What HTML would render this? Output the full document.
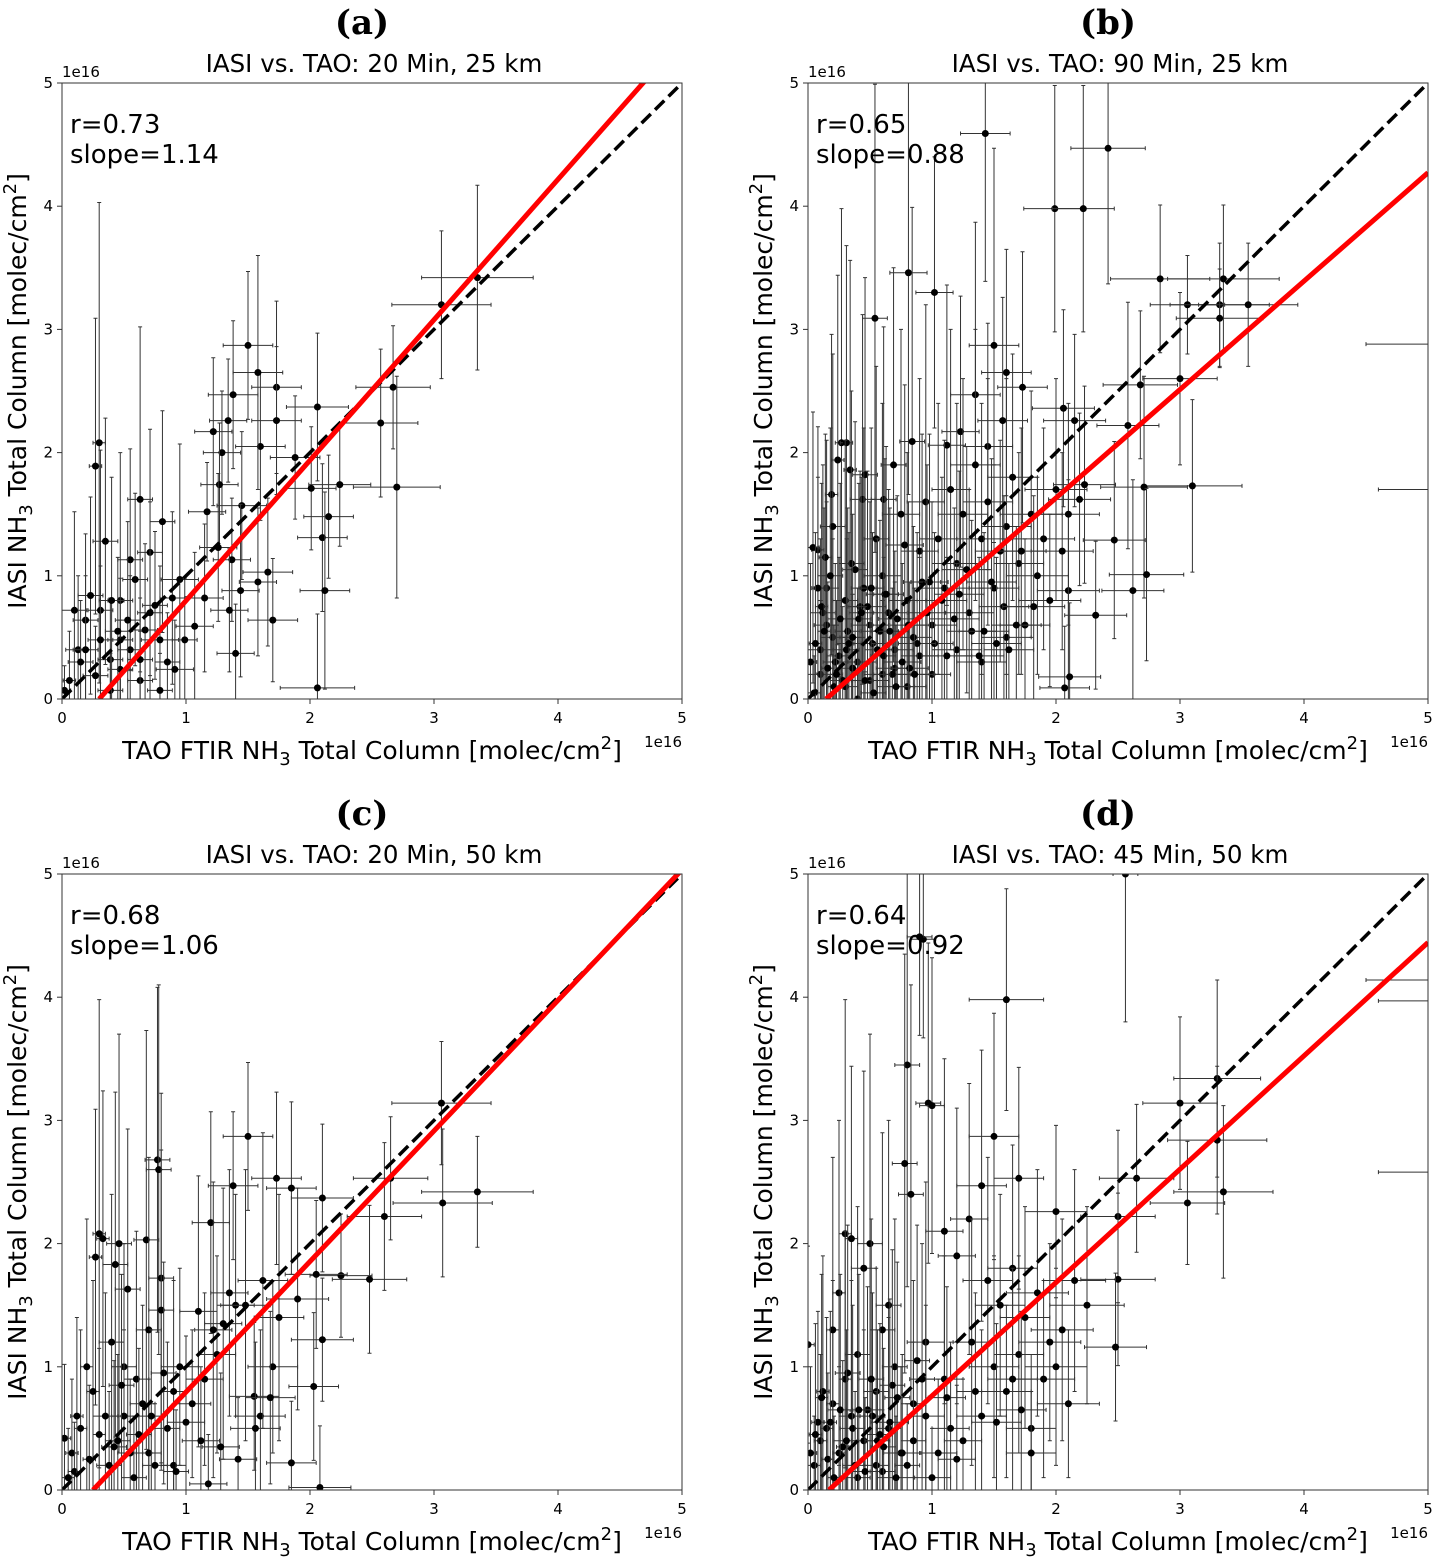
<!DOCTYPE html>
<html><head><meta charset="utf-8">
<style>
html,body{margin:0;padding:0;background:#fff;}
svg{display:block;font-family:"DejaVu Sans","Liberation Sans",sans-serif;}
</style></head>
<body>
<svg id="fig" width="1435" height="1557" viewBox="0 0 1435 1557" xmlns="http://www.w3.org/2000/svg"></svg>
<script>
// ---------- Panel (a): 20 Min, 25 km ----------
const aX = [3.06,3.35,2.67,2.57,2.70,2.06,2.24,2.01,2.15,2.10,2.12,2.06,1.88,1.73,1.73,1.60,1.58,1.50,1.38,1.34,1.22,1.29,1.45,1.27,1.17,1.26,1.37,1.66,1.58,1.70,1.44,1.35,1.40,1.15,1.07,0.95,0.89,0.99,0.75,0.81,0.63,0.71,0.55,0.47,0.35,0.30,0.27,0.31,0.19,0.13,0.06,0.39,0.55,0.67,0.23,0.10,0.79,0.47,0.27,0.63,0.91,0.79,0.39,0.19,0.47,0.02,0.63,0.31,0.53,0.71,0.40,0.59,0.85,0.15,0.45];
const aY = [3.20,3.42,2.53,2.24,1.72,2.37,1.74,1.71,1.48,1.31,0.88,0.09,1.96,2.53,2.26,2.05,2.65,2.87,2.47,2.26,2.17,2.00,1.57,1.74,1.52,1.23,1.13,1.03,0.95,0.64,0.88,0.72,0.37,0.82,0.59,0.97,0.82,0.48,0.76,1.44,1.62,1.19,1.13,0.80,1.28,2.08,1.89,0.72,0.64,0.40,0.15,0.32,0.40,0.56,0.84,0.72,0.48,0.48,0.19,0.15,0.24,0.07,0.07,0.40,0.24,0.07,0.32,0.48,0.64,0.70,0.80,0.97,0.30,0.30,0.55];
const aXErr = [0.40,0.45,0.30,0.30,0.35,0.25,0.25,0.20,0.20,0.20,0.20,0.30,0.20,0.20,0.20,0.20,0.20,0.20,0.20,0.15,0.15,0.15,0.20,0.15,0.15,0.15,0.15,0.20,0.15,0.20,0.15,0.15,0.15,0.15,0.15,0.15,0.10,0.10,0.10,0.10,0.10,0.10,0.10,0.10,0.10,0.05,0.05,0.10,0.10,0.10,0.05,0.10,0.10,0.10,0.10,0.10,0.15,0.10,0.10,0.10,0.15,0.10,0.10,0.10,0.10,0.05,0.10,0.10,0.10,0.10,0.10,0.10,0.10,0.10,0.10];
const aYErr = [0.60,0.75,0.50,0.60,0.90,0.60,0.50,0.50,0.50,0.60,0.80,0.60,0.50,0.70,0.60,0.60,0.95,0.60,0.60,0.50,0.60,0.50,0.60,0.50,0.40,0.60,0.50,0.60,0.60,0.50,0.70,0.50,0.40,0.60,0.60,1.10,0.70,0.50,0.60,0.90,1.40,1.00,0.90,1.20,1.00,1.95,1.20,1.30,0.70,0.60,0.40,0.50,0.60,0.70,0.80,0.80,0.60,0.50,0.40,0.40,0.40,0.30,0.30,0.60,0.40,0.20,0.50,0.60,0.80,0.90,1.00,0.70,0.40,0.50,0.60];

// ---------- Panel (b): 90 Min, 25 km ----------
const bX = [1.43,2.42,1.99,2.22,0.81,1.02,0.54,2.84,3.35,3.06,3.32,3.55,3.32,3.00,2.68,2.58,3.10,2.71,2.73,2.62,2.47,2.32,2.10,2.11,2.07,2.06,2.15,2.23,2.19,1.50,1.60,1.73,1.57,1.45,1.23,1.35,1.12,0.84,0.27,0.31,0.08,0.04,0.61,0.44,0.69,0.46,0.34,0.24,0.19,0.10,0.20,0.30,0.15,0.40,0.50,0.60,0.70,0.80,0.90,1.00,1.10,1.20,1.30,1.40,1.50,1.60,1.70,1.80,1.90,2.00,1.75,1.60,1.40,1.20,1.00,0.80,0.60,0.30,0.05,0.25,0.45,0.55,0.35,0.75,0.95,1.15,1.35,1.25,1.05,0.65,0.85,1.45,1.55,1.65,1.85,1.95,2.05,2.10,0.20,0.15,0.10,0.40,0.50,0.70,0.90,0.12,0.22,0.32,0.42,0.52,0.62,0.72,0.82,0.92,1.02,1.12,1.22,1.32,0.18,0.28,0.38,0.48,0.58,0.68,0.78,0.88,0.98,1.08,1.18,1.28,1.38,1.48,1.58,1.68,0.08,0.14,0.36,5.60,5.60,0.06,0.16,0.26,0.36,0.46,0.56,0.66,0.76,0.86,0.96,0.11,0.21,0.31,0.41,0.51,0.61,0.71,0.81,0.02,0.13,0.23,0.33,0.43,0.53,0.63,1.42,1.62,1.82,1.72,1.52];
const bY = [4.59,4.47,3.98,3.98,3.46,3.30,3.09,3.41,3.41,3.20,3.20,3.20,3.09,2.60,2.55,2.22,1.73,1.72,1.01,0.88,1.29,0.68,0.88,0.18,0.09,2.36,2.26,1.74,1.62,2.87,2.65,2.53,2.26,2.05,2.17,2.47,2.06,2.09,2.08,2.08,1.21,1.23,1.62,1.62,1.90,1.82,1.86,1.94,1.66,0.20,0.50,0.80,0.90,0.30,0.60,1.00,0.40,0.80,1.20,0.60,0.90,1.10,0.70,1.30,0.90,1.40,1.10,1.50,1.30,1.70,0.60,0.50,0.30,0.40,0.20,0.10,0.20,0.10,0.05,0.35,0.90,1.30,1.10,1.50,1.60,1.70,1.90,1.50,1.30,0.70,0.50,1.60,1.20,1.80,1.00,0.80,1.20,1.50,1.40,0.60,0.40,0.00,0.15,0.25,0.35,0.70,0.30,0.55,0.75,0.45,0.85,0.65,0.25,0.95,0.45,0.35,0.85,0.55,1.00,0.15,1.05,0.75,0.55,0.20,1.25,0.45,0.95,0.80,0.65,1.05,0.35,0.95,0.75,0.60,0.90,1.15,0.25,2.88,1.70,0.45,0.25,0.65,0.50,0.15,0.40,0.55,0.30,0.20,0.70,0.75,0.10,0.40,0.65,0.90,0.35,0.10,0.60,0.30,0.55,0.20,0.45,0.70,0.05,0.85,0.55,0.40,0.75,1.20,0.45];
const bXErr = [0.20,0.30,0.25,0.25,0.15,0.15,0.10,0.40,0.45,0.30,0.40,0.40,0.35,0.30,0.30,0.25,0.40,0.35,0.30,0.25,0.25,0.25,0.25,0.25,0.20,0.25,0.25,0.25,0.25,0.20,0.20,0.20,0.20,0.20,0.15,0.20,0.15,0.10,0.05,0.05,0.05,0.05,0.10,0.10,0.10,0.10,0.05,0.05,0.05,0.10,0.10,0.10,0.10,0.15,0.15,0.15,0.15,0.15,0.15,0.20,0.20,0.20,0.20,0.20,0.20,0.20,0.20,0.25,0.25,0.25,0.20,0.20,0.20,0.20,0.15,0.15,0.15,0.10,0.05,0.10,0.10,0.10,0.10,0.15,0.15,0.15,0.20,0.20,0.15,0.15,0.15,0.20,0.20,0.20,0.25,0.25,0.25,0.25,0.10,0.10,0.10,0.15,0.15,0.15,0.15,0.10,0.10,0.10,0.10,0.15,0.15,0.15,0.15,0.15,0.15,0.20,0.20,0.20,0.10,0.10,0.10,0.15,0.15,0.15,0.15,0.15,0.15,0.20,0.20,0.20,0.20,0.20,0.20,0.20,0.05,0.05,0.10,1.10,1.00,0.05,0.05,0.10,0.10,0.10,0.10,0.15,0.15,0.15,0.15,0.05,0.05,0.10,0.10,0.10,0.10,0.15,0.15,0.05,0.05,0.05,0.10,0.10,0.10,0.10,0.20,0.20,0.25,0.20,0.20];
const bYErr = [1.20,1.10,1.00,1.00,1.80,1.10,1.90,0.60,0.60,0.40,0.50,0.50,0.40,0.70,0.60,1.00,0.70,0.90,0.70,0.90,0.80,0.60,0.90,0.60,0.50,0.80,0.70,0.80,0.70,1.60,1.00,1.10,1.00,1.00,1.10,1.40,1.30,1.90,1.90,1.60,1.00,1.10,1.40,1.50,1.60,1.60,1.70,1.50,1.30,0.60,0.80,1.30,1.20,0.60,1.00,1.40,0.80,1.20,1.40,1.00,1.20,1.30,1.00,1.10,1.00,1.20,0.90,1.00,0.90,0.90,0.70,0.70,0.60,0.70,0.60,0.50,0.60,0.40,0.30,0.80,1.30,1.40,1.40,1.50,1.60,1.30,1.10,1.10,1.10,1.00,0.90,1.00,0.90,1.00,0.80,0.70,0.80,0.90,1.40,1.00,0.90,0.50,0.60,0.70,0.80,1.20,0.80,1.00,1.10,0.90,1.10,1.00,0.70,1.20,0.90,0.80,1.00,0.90,1.20,0.60,1.20,1.10,0.90,0.70,1.30,0.90,1.20,1.00,0.90,1.00,0.80,1.00,0.90,0.80,0.90,1.00,0.60,0.00,0.00,0.90,0.70,1.10,1.00,0.60,0.90,1.00,0.80,0.70,1.20,1.00,0.50,0.90,1.10,1.30,0.80,0.50,1.00,0.80,1.00,0.60,0.90,1.10,0.40,1.20,0.80,0.70,0.90,1.00,0.70];

// ---------- Panel (c): 20 Min, 50 km ----------
const cX = [3.06,3.35,3.07,2.60,2.65,2.48,2.25,2.10,2.05,1.85,1.73,1.50,1.38,1.20,0.77,0.78,0.68,0.30,0.33,0.27,0.46,0.43,0.53,0.80,0.80,2.10,2.03,1.85,2.08,1.70,1.60,1.55,1.40,1.30,1.25,1.15,1.05,0.95,0.90,1.10,1.22,1.35,1.48,1.62,1.75,1.90,0.70,0.60,0.50,0.40,0.35,0.25,0.15,0.08,0.02,0.20,0.45,0.65,0.85,0.55,0.75,0.30,0.10,0.50,0.70,0.90,1.00,1.12,1.28,1.42,1.56,1.68,0.38,0.58,0.12,0.62,0.82,0.22,0.48,0.72,0.05,0.42,0.92,1.18];
const cY = [3.14,2.42,2.33,2.22,2.53,1.71,1.74,2.37,1.75,2.45,2.53,2.87,2.47,2.17,2.68,2.60,2.03,2.08,2.04,1.89,2.00,1.83,1.63,1.72,1.46,1.22,0.84,0.22,0.02,1.00,0.60,0.76,1.50,1.35,1.10,0.90,0.70,1.00,0.80,1.45,1.30,1.60,1.50,1.70,1.40,1.55,1.30,0.90,1.00,1.20,0.60,0.80,0.50,0.30,0.42,1.00,0.40,0.70,0.50,0.30,0.20,0.45,0.15,0.60,0.30,0.20,0.55,0.40,0.35,0.25,0.50,0.75,0.20,0.10,0.60,0.45,0.95,0.25,0.85,0.60,0.10,0.35,0.15,0.05];
const cXErr = [0.40,0.45,0.40,0.30,0.30,0.30,0.25,0.25,0.25,0.20,0.20,0.20,0.20,0.15,0.10,0.10,0.10,0.05,0.05,0.05,0.10,0.10,0.10,0.10,0.10,0.25,0.20,0.20,0.25,0.20,0.20,0.20,0.15,0.15,0.15,0.15,0.15,0.15,0.10,0.15,0.15,0.15,0.20,0.20,0.20,0.25,0.10,0.10,0.10,0.10,0.10,0.05,0.05,0.05,0.05,0.05,0.10,0.10,0.10,0.10,0.10,0.05,0.05,0.10,0.10,0.10,0.15,0.15,0.15,0.15,0.20,0.20,0.10,0.10,0.05,0.10,0.10,0.05,0.10,0.10,0.05,0.10,0.10,0.15];
const cYErr = [0.50,0.45,0.60,0.60,0.50,0.60,0.50,0.60,0.60,0.70,0.70,0.60,0.60,0.90,1.40,1.50,1.70,1.90,1.20,1.20,1.70,1.40,1.30,1.50,1.30,0.50,0.60,0.50,0.50,0.70,0.70,0.60,0.90,1.10,0.80,0.70,0.60,0.80,0.90,1.10,1.20,1.00,1.10,1.20,1.00,0.90,1.40,1.20,1.00,1.20,1.00,0.90,0.80,0.60,0.60,1.20,0.70,0.80,0.70,0.60,0.50,0.70,0.40,0.70,0.60,0.50,0.70,0.60,0.60,0.50,0.70,0.70,0.60,0.50,0.80,0.70,0.90,0.60,0.90,0.70,0.40,0.70,0.50,0.40];

// ---------- Panel (d): 45 Min, 50 km ----------
const dX = [2.56,0.93,0.90,1.60,0.80,0.97,1.00,3.30,3.00,3.30,3.35,3.06,2.65,2.50,2.50,2.48,2.00,1.50,1.40,1.70,0.30,0.50,0.35,0.00,0.45,0.25,0.65,0.78,0.83,1.10,1.20,1.30,1.45,1.55,1.65,1.75,1.85,1.95,2.05,2.15,2.25,2.10,1.90,1.80,1.70,1.60,1.40,1.25,1.10,0.95,0.85,0.70,0.60,0.55,0.40,0.30,0.20,0.10,0.05,0.15,0.25,0.35,0.45,0.55,0.65,0.75,0.85,0.95,1.05,1.15,1.35,1.50,1.65,1.80,2.00,0.20,0.40,0.60,0.80,1.00,1.20,0.12,0.32,0.52,0.72,0.92,1.12,1.32,1.52,1.72,0.08,0.28,0.48,0.68,0.88,5.60,5.60,5.60,0.06,0.16,0.26,0.36,0.46,0.56,0.66,0.76,0.11,0.21,0.31,0.41,0.51,0.61,0.71,0.02,0.18,0.38,0.58];
const dY = [5.00,4.47,4.49,3.98,3.45,3.14,3.12,3.34,3.14,2.84,2.42,2.33,2.53,2.22,1.71,1.16,2.26,2.87,2.47,2.53,2.08,2.00,2.04,1.18,1.80,1.60,1.50,2.65,2.40,2.10,1.90,2.20,1.70,1.50,1.80,1.40,1.60,1.20,1.30,1.70,1.50,0.70,0.90,0.50,1.10,0.80,0.60,0.40,0.90,1.20,0.70,1.00,1.30,0.80,1.10,0.90,0.70,0.40,0.20,0.50,0.30,0.60,0.40,0.20,0.50,0.30,0.40,0.60,0.30,0.50,0.80,1.00,0.90,0.30,1.00,1.30,0.10,0.15,0.20,0.10,0.25,0.80,0.95,0.60,0.75,0.90,0.75,1.20,0.55,0.65,0.55,0.35,0.65,0.85,1.05,4.14,3.97,2.58,0.45,0.25,0.65,0.50,0.15,0.40,0.55,0.30,0.75,0.10,0.40,0.65,0.90,0.35,0.10,0.30,0.55,0.20,0.45];
const dXErr = [0.10,0.10,0.10,0.30,0.10,0.10,0.10,0.35,0.30,0.40,0.40,0.30,0.30,0.30,0.30,0.25,0.25,0.20,0.20,0.20,0.05,0.10,0.05,0.05,0.10,0.05,0.10,0.10,0.10,0.15,0.15,0.15,0.20,0.20,0.20,0.20,0.25,0.25,0.25,0.25,0.30,0.25,0.25,0.20,0.20,0.20,0.20,0.15,0.15,0.15,0.10,0.10,0.10,0.10,0.10,0.05,0.05,0.05,0.05,0.05,0.05,0.10,0.10,0.10,0.10,0.10,0.10,0.15,0.15,0.15,0.15,0.20,0.20,0.20,0.25,0.05,0.10,0.10,0.10,0.15,0.15,0.05,0.10,0.10,0.10,0.10,0.15,0.15,0.20,0.20,0.05,0.05,0.10,0.10,0.10,1.10,1.00,1.00,0.05,0.05,0.10,0.10,0.10,0.10,0.15,0.15,0.05,0.05,0.10,0.10,0.10,0.10,0.15,0.05,0.05,0.10,0.10];
const dYErr = [1.20,0.80,0.80,0.90,1.80,1.30,1.20,0.80,0.70,0.60,0.70,0.50,0.60,0.70,0.70,0.60,0.70,1.00,1.10,0.90,1.90,1.70,1.40,0.80,1.60,1.40,1.50,1.70,1.70,1.40,1.20,1.10,1.00,0.90,1.00,0.90,1.00,0.80,0.90,0.90,0.80,0.60,0.80,0.60,0.80,0.70,0.70,0.50,1.00,1.30,1.00,1.20,1.60,1.00,1.20,1.20,1.00,0.70,0.40,0.90,0.70,1.10,0.90,0.60,0.90,0.70,0.80,0.90,0.60,0.70,0.80,0.90,0.90,0.50,0.80,1.40,0.40,0.50,0.50,0.40,0.60,1.10,1.20,1.00,1.10,1.10,0.90,1.00,0.80,0.80,0.90,0.70,1.00,1.10,1.10,0.00,0.00,0.00,0.90,0.70,1.10,1.00,0.60,0.90,1.00,0.80,1.00,0.50,0.90,1.10,1.30,0.80,0.50,0.70,0.90,0.60,0.90];

// ---------- Fit stats ----------
const panelLetters = ["(a)","(b)","(c)","(d)"];
const panelTitles = ["IASI vs. TAO: 20 Min, 25 km","IASI vs. TAO: 90 Min, 25 km","IASI vs. TAO: 20 Min, 50 km","IASI vs. TAO: 45 Min, 50 km"];
const rValues = ["0.73","0.65","0.68","0.64"];
const slopes = [1.14,0.88,1.06,0.92];
const intercepts = [-0.342,-0.128,-0.265,-0.156];
const tickValues = [0,1,2,3,4,5];

const svg = document.getElementById('fig');
const NS = 'http://www.w3.org/2000/svg';
function mk(tag, attrs, parent){
  const e = document.createElementNS(NS, tag);
  for (const k in attrs) e.setAttribute(k, attrs[k]);
  (parent||svg).appendChild(e);
  return e;
}
const panels = [
  {L:62,R:682,B:699,T:83, xs:aX, ys:aY, xe:aXErr, ye:aYErr},
  {L:808,R:1428,B:699,T:83, xs:bX, ys:bY, xe:bXErr, ye:bYErr},
  {L:62,R:682,B:1490,T:874, xs:cX, ys:cY, xe:cXErr, ye:cYErr},
  {L:808,R:1428,B:1490,T:874, xs:dX, ys:dY, xe:dXErr, ye:dYErr}
];
const defs = mk('defs',{});
panels.forEach((p,i)=>{
  const sx = v => p.L + (p.R-p.L)*v/5;
  const sy = v => p.B - (p.B-p.T)*v/5;
  const g = mk('g',{});
  
  
  const cp = mk('clipPath',{id:'clip'+i},defs);
  mk('rect',{x:p.L,y:p.T,width:p.R-p.L,height:p.B-p.T},cp);
  const cx = (p.L+p.R)/2;
  const lt = mk('text',{x:cx-10,y:p.T-49,'text-anchor':'middle','font-family':'"DejaVu Serif","Liberation Serif",serif','font-weight':'bold','font-size':'34'},g);
  lt.textContent = panelLetters[i];
  
  
  const tt = mk('text',{x:cx+2,y:p.T-11,'text-anchor':'middle','font-size':'24.5'},g);
  tt.textContent = panelTitles[i];
  
  
  const dg = mk('g',{'clip-path':'url(#clip'+i+')'},g);
  
  
  for (let k=0;k<p.xs.length;k++){
    const x=p.xs[k], y=p.ys[k], xe=p.xe[k], ye=p.ye[k];
    const px=sx(x), py=sy(y);
    const eb = mk('path',{d:`M${sx(x-xe)},${py}H${sx(x+xe)}M${sx(x-xe)},${py-2}V${py+2}M${sx(x+xe)},${py-2}V${py+2}`+(ye>0?`M${px},${sy(y-ye)}V${sy(y+ye)}M${px-2},${sy(y-ye)}H${px+2}M${px-2},${sy(y+ye)}H${px+2}`:''),stroke:'#333','stroke-width':'1',fill:'none'},dg);
    
    
    const c = mk('circle',{cx:px,cy:py,r:3.5,fill:'#000'},dg);
    
    
  }
  const one = mk('line',{x1:sx(0),y1:sy(0),x2:sx(5),y2:sy(5),stroke:'#000','stroke-width':'3.5','stroke-dasharray':'13,6'},dg);
  
  
  const x0 = -intercepts[i]/slopes[i];
  const fit = mk('line',{x1:sx(x0),y1:sy(0),x2:sx(5),y2:sy(slopes[i]*5+intercepts[i]),stroke:'#f00','stroke-width':'5'},dg);
  
  
  const fr = mk('rect',{x:p.L,y:p.T,width:p.R-p.L,height:p.B-p.T,fill:'none',stroke:'#333','stroke-width':'1'},g);
  
  
  tickValues.forEach(v=>{
    mk('line',{x1:sx(v),y1:p.B,x2:sx(v),y2:p.B+5,stroke:'#333','stroke-width':'1'},g);
    const xl = mk('text',{x:sx(v),y:p.B+24,'text-anchor':'middle','font-size':'15'},g);
    xl.textContent = v;
    
    
    mk('line',{x1:p.L-5,y1:sy(v),x2:p.L,y2:sy(v),stroke:'#333','stroke-width':'1'},g);
    const yl = mk('text',{x:p.L-9,y:sy(v)+5,'text-anchor':'end','font-size':'15'},g);
    yl.textContent = v;
    
    
  });
  const e1 = mk('text',{x:p.L,y:p.T-6,'font-size':'15'},g);
  e1.textContent='1e16';
  
  
  const e2 = mk('text',{x:p.R,y:p.B+48,'text-anchor':'end','font-size':'15'},g);
  e2.textContent='1e16';
  
  
  const xlab = mk('text',{x:cx,y:p.B+60,'text-anchor':'middle','font-size':'25'},g);
  xlab.innerHTML = 'TAO FTIR NH<tspan font-size="18" dy="6">3</tspan><tspan dy="-6"> Total Column [molec/cm</tspan><tspan font-size="18" dy="-10">2</tspan><tspan dy="10">]</tspan>';
  
  
  const ylab = mk('text',{x:0,y:0,'text-anchor':'middle','font-size':'25',transform:`translate(${p.L-36},${(p.T+p.B)/2}) rotate(-90)`},g);
  ylab.innerHTML = 'IASI NH<tspan font-size="18" dy="6">3</tspan><tspan dy="-6"> Total Column [molec/cm</tspan><tspan font-size="18" dy="-10">2</tspan><tspan dy="10">]</tspan>';
  
  
  const st = mk('text',{x:p.L+8,y:p.T+50,'font-size':'26'},g);
  st.textContent = 'r='+rValues[i];
  
  
  const st2 = mk('text',{x:p.L+8,y:p.T+80,'font-size':'26'},g);
  st2.textContent = 'slope='+slopes[i].toFixed(2);
  
  
});
</script>
</body></html>
